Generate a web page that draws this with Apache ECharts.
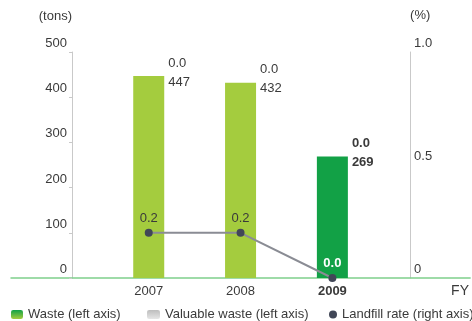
<!DOCTYPE html>
<html>
<head>
<meta charset="utf-8">
<script src="https://cdn.jsdelivr.net/npm/echarts@6/dist/echarts.min.js"></script>
<style>
  html, body { margin: 0; padding: 0; background: #fff; }
  #chart { width: 472px; height: 321px; }
</style>
</head>
<body>
<div id="chart"></div>
<script>
// Fiscal years shown on the horizontal axis
const years = ['2007', '2008', '2009'];
// Waste generated, tons (left axis)
const wasteTons = [447, 432, 269];
// Valuable waste, tons (left axis)
const valuableTons = [0.0, 0.0, 0.0];
// Landfill rate, % (right axis)
const landfillRate = [0.2, 0.2, 0.0];
// Tick labels
const leftTicks = [0, 100, 200, 300, 400, 500];
const rightTicks = [0, 0.5, 1.0];

const FONT = '"Liberation Sans", Arial, sans-serif';
const FS = 13;
const TEXT = '#3a3a3a';
const LIGHT_GREEN = '#a4cc3e';
const DARK_GREEN = '#12a146';
const current = years.length - 1; // latest year is emphasised

// blank slots on either side give the axis its margins
const cats = [''].concat(years, ['']);
const pad = arr => [null].concat(arr, [null]);

const wasteData = pad(wasteTons.map((v, i) => ({
  value: v,
  itemStyle: { color: i === current ? DARK_GREEN : LIGHT_GREEN },
  label: { fontWeight: i === current ? 'bold' : 'normal' }
})));
const valuableData = pad(valuableTons.map((v, i) => ({
  value: v,
  label: { fontWeight: i === current ? 'bold' : 'normal' }
})));
const rateData = pad(landfillRate.map((v, i) => ({
  value: v,
  label: i === current ? { color: '#ffffff', fontWeight: 'bold' } : {}
})));

const chart = echarts.init(document.getElementById('chart'));
const legendText = { fontFamily: FONT, fontSize: FS, color: TEXT };

chart.setOption({
  animation: false,
  textStyle: { fontFamily: FONT },
  grid: { left: 11, right: 0, top: 52, bottom: 43 },
  legend: [
    { data: ['Waste (left axis)'], left: 6, top: 303, itemWidth: 12, itemHeight: 9, itemGap: 0, textStyle: legendText },
    { data: ['Valuable waste (left axis)'], left: 142, top: 303, itemWidth: 13, itemHeight: 9, textStyle: legendText },
    { data: [{ name: 'Landfill rate (right axis)', icon: 'circle' }], left: 324, top: 303, itemWidth: 8, itemHeight: 8, textStyle: legendText }
  ],
  xAxis: {
    type: 'category',
    data: cats,
    boundaryGap: true,
    axisLine: { lineStyle: { color: '#7fcf8c', width: 1.5 } },
    axisTick: { show: false },
    axisLabel: {
      color: TEXT, fontSize: FS, margin: 7,
      formatter: v => v === years[current] ? '{b|' + v + '}' : v,
      rich: { b: { fontWeight: 'bold', fontSize: FS, color: TEXT } }
    },
    name: 'FY',
    nameLocation: 'end',
    nameGap: -19,
    nameTextStyle: { color: TEXT, fontSize: 14, verticalAlign: 'top', padding: [6, 0, 0, 0] }
  },
  yAxis: [
    {
      type: 'value', min: 0, max: 500, interval: 100,
      offset: -61,
      name: '(tons)', nameGap: 29,
      nameTextStyle: { color: TEXT, fontSize: FS, align: 'right' },
      axisLine: { show: true, lineStyle: { color: '#c9c9c9' } },
      axisTick: { show: true, length: 3, lineStyle: { color: '#c9c9c9' } },
      splitLine: { show: false },
      axisLabel: {
        color: TEXT, fontSize: FS, margin: 5,
        verticalAlign: 'bottom', padding: [0, 0, 2, 0],
        customValues: leftTicks
      }
    },
    {
      type: 'value', min: 0, max: 1, interval: 0.5,
      offset: -60, position: 'right',
      name: '(%)', nameGap: 30,
      nameTextStyle: { color: TEXT, fontSize: FS, align: 'left' },
      axisLine: { show: true, lineStyle: { color: '#c9c9c9' } },
      axisTick: { show: false },
      splitLine: { show: false },
      axisLabel: {
        color: TEXT, fontSize: FS, margin: 4,
        verticalAlign: 'bottom', padding: [0, 0, 2, 0],
        customValues: rightTicks,
        formatter: v => v === 0 ? '0' : v.toFixed(1)
      }
    }
  ],
  series: [
    {
      name: 'Waste (left axis)',
      type: 'bar',
      stack: 'tons',
      barWidth: 31,
      data: wasteData,
      itemStyle: {
        color: new echarts.graphic.LinearGradient(0, 0, 0, 1, [
          { offset: 0, color: DARK_GREEN }, { offset: 1, color: LIGHT_GREEN }
        ])
      },
      label: {
        show: true, position: ['100%', 0], offset: [4, 6],
        align: 'left', verticalAlign: 'middle',
        color: TEXT, fontSize: FS,
        formatter: p => String(p.value)
      }
    },
    {
      name: 'Valuable waste (left axis)',
      type: 'bar',
      stack: 'tons',
      barWidth: 31,
      data: valuableData,
      itemStyle: {
        color: new echarts.graphic.LinearGradient(0, 0, 0, 1, [
          { offset: 0, color: '#bdbdbd' }, { offset: 1, color: '#e6e6e6' }
        ])
      },
      label: {
        show: true, position: ['100%', 0], offset: [4, -13],
        align: 'left', verticalAlign: 'middle',
        color: TEXT, fontSize: FS,
        formatter: p => Number(p.value).toFixed(1)
      }
    },
    {
      name: 'Landfill rate (right axis)',
      type: 'line',
      yAxisIndex: 1,
      data: rateData,
      symbol: 'circle',
      symbolSize: 8,
      itemStyle: { color: '#414757' },
      lineStyle: { color: '#8a8c94', width: 2 },
      label: {
        show: true, position: 'top', distance: 4,
        color: TEXT, fontSize: FS,
        formatter: p => Number(p.value).toFixed(1)
      },
      z: 5
    }
  ]
});
</script>
</body>
</html>
